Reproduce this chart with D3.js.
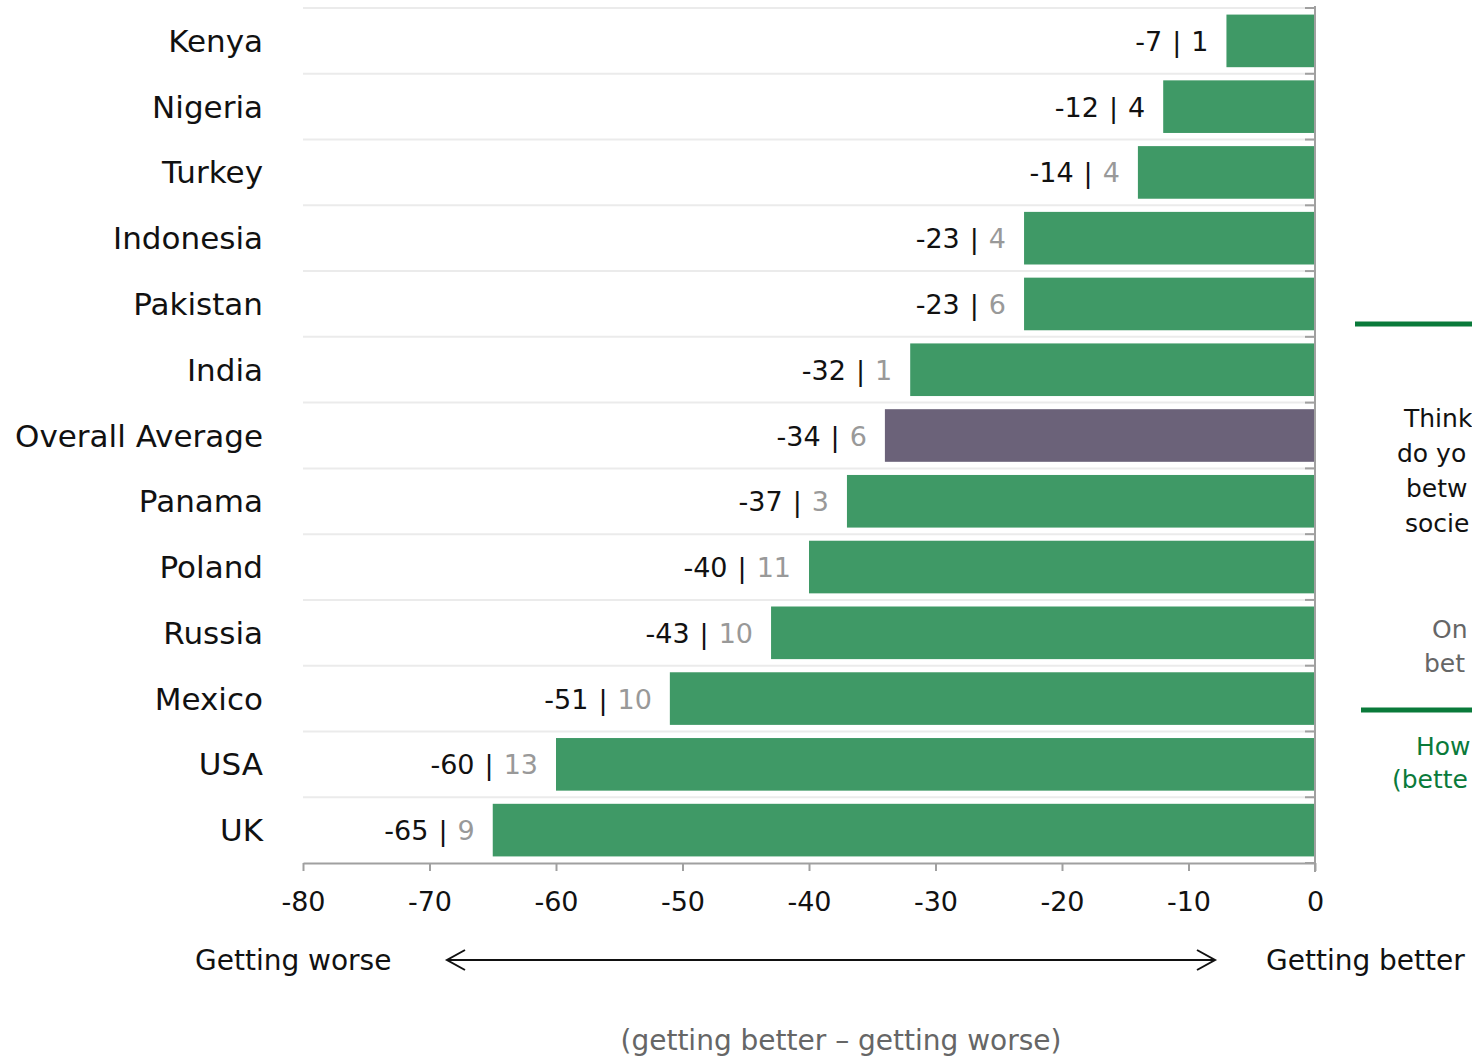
<!DOCTYPE html>
<html><head><meta charset="utf-8">
<script src="https://cdn.jsdelivr.net/npm/d3@7"></script>
<style>body{margin:0;background:#fff;overflow:hidden}svg{display:block}</style>
</head><body>
<script>
const countries = ["Kenya","Nigeria","Turkey","Indonesia","Pakistan","India","Overall Average","Panama","Poland","Russia","Mexico","USA","UK"];
const netValues = [-7,-12,-14,-23,-23,-32,-34,-37,-40,-43,-51,-60,-65];
const secondValues = [1,4,4,4,6,1,6,3,11,10,10,13,9];
const xTicks = [-80,-70,-60,-50,-40,-30,-20,-10,0];

const W=1472,H=1056;
const FONT="'DejaVu Sans', sans-serif";
const svg=d3.select("body").append("svg").attr("width",W).attr("height",H).style("font-family",FONT);

const x=d3.scaleLinear().domain([-80,0]).range([303,1315]);
const y=d3.scaleBand().domain(countries).range([8,863]).paddingInner(0.2).paddingOuter(0.1);
const step=y.step();

// gridlines
svg.append("g").selectAll("line").data(countries).join("line")
  .attr("x1",x(-80)).attr("x2",x(0))
  .attr("y1",(d,i)=>8+i*step).attr("y2",(d,i)=>8+i*step)
  .attr("stroke","#ebebeb").attr("stroke-width",2);

// bars
svg.append("g").selectAll("rect").data(countries).join("rect")
  .attr("x",(d,i)=>x(netValues[i])).attr("width",(d,i)=>x(0)-x(netValues[i]))
  .attr("y",d=>y(d)).attr("height",y.bandwidth())
  .attr("fill",d=>d==="Overall Average"?"#6b6279":"#3f9966");

// right axis ticks
svg.append("g").selectAll("line").data(d3.range(countries.length+1)).join("line")
  .attr("x1",x(0)-10).attr("x2",x(0))
  .attr("y1",i=>8+i*step).attr("y2",i=>8+i*step)
  .attr("stroke","#a0a0a0").attr("stroke-width",2);
svg.append("line").attr("x1",x(0)).attr("x2",x(0)).attr("y1",6).attr("y2",872)
  .attr("stroke","#a0a0a0").attr("stroke-width",2);

// bottom axis
const xAxis=d3.axisBottom(x).tickValues(xTicks).tickFormat(d=>String(d)).tickSize(8).tickSizeOuter(0);
const gx=svg.append("g").attr("transform","translate(0,863)").call(xAxis);
gx.select(".domain").attr("stroke","#a0a0a0").attr("stroke-width",2);
gx.selectAll(".tick line").attr("stroke","#a0a0a0").attr("stroke-width",2);
gx.selectAll(".tick text").attr("font-size",27).attr("font-family",FONT).attr("fill","#111").attr("dy",0).attr("y",48);

// category labels
svg.append("g").selectAll("text").data(countries).join("text")
  .attr("x",263).attr("y",d=>y(d)+y.bandwidth()/2+11)
  .attr("text-anchor","end").attr("font-size",31).attr("fill","#111").text(d=>d);

// value labels
const vl=svg.append("g").selectAll("text").data(countries).join("text")
  .attr("x",(d,i)=>x(netValues[i])-18).attr("y",d=>y(d)+y.bandwidth()/2+10)
  .attr("text-anchor","end").attr("font-size",27);
vl.append("tspan").attr("fill","#111").text((d,i)=>netValues[i]);
vl.append("tspan").attr("fill","#111").attr("dx",10).text("|");
vl.append("tspan").attr("fill",(d,i)=>i<2?"#111":"#999").attr("dx",10).text((d,i)=>secondValues[i]);

// bottom annotations
svg.append("text").attr("x",195).attr("y",970).attr("font-size",28).attr("fill","#111").text("Getting worse");
svg.append("text").attr("x",1266).attr("y",970).attr("font-size",28).attr("fill","#111").text("Getting better");
const ar=svg.append("g").attr("stroke","#111").attr("stroke-width",2).attr("fill","none");
ar.append("line").attr("x1",447).attr("x2",1215).attr("y1",960).attr("y2",960);
ar.append("path").attr("d","M465,950 L447,960 L465,970");
ar.append("path").attr("d","M1197,950 L1215,960 L1197,970");
svg.append("text").attr("x",841).attr("y",1050).attr("text-anchor","middle").attr("font-size",28).attr("fill","#666").text("(getting better – getting worse)");

// right side panel (cropped in the reference)
svg.append("line").attr("x1",1355).attr("x2",1472).attr("y1",324).attr("y2",324).attr("stroke","#0a7a3a").attr("stroke-width",5);
svg.append("line").attr("x1",1361).attr("x2",1472).attr("y1",710).attr("y2",710).attr("stroke","#0a7a3a").attr("stroke-width",5);
const side=[
  {t:"Think",x:1404,y:427,c:"#111"},
  {t:"do yo",x:1397,y:462,c:"#111"},
  {t:"betw",x:1406,y:497,c:"#111"},
  {t:"socie",x:1405,y:532,c:"#111"},
  {t:"On",x:1432,y:638,c:"#666"},
  {t:"bet",x:1424,y:672,c:"#666"},
  {t:"How",x:1416,y:755,c:"#0a7a3a"},
  {t:"(bette",x:1392,y:788,c:"#0a7a3a"}
];
svg.append("g").selectAll("text").data(side).join("text")
  .attr("x",d=>d.x).attr("y",d=>d.y).attr("font-size",25).attr("fill",d=>d.c).text(d=>d.t);
</script>
</body></html>
